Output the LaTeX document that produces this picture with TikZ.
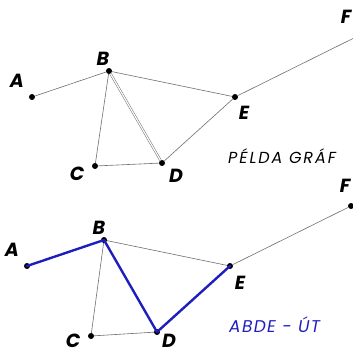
\documentclass[tikz,border=0pt]{standalone}
\usepackage{fontspec}
\setmainfont{Poppins}
\usetikzlibrary{positioning}
\definecolor{edgegray}{RGB}{110,110,110}
\definecolor{pathblue}{RGB}{30,30,190}
\tikzset{
  vertex/.style={circle, fill=black, inner sep=0pt, minimum size=6pt},
  vname/.style={font=\fontsize{19}{19}\selectfont\bfseries\itshape, inner sep=1pt},
  edge/.style={draw=edgegray, line width=0.6pt},
  dbl/.style={draw=edgegray, line width=0.5pt, double, double distance=1.2pt},
  walk/.style={draw=pathblue, line width=2.4pt, line cap=round, line join=round},
  caption/.style={font=\fontsize{16}{16}\selectfont\itshape\addfontfeature{LetterSpace=12},
                  anchor=west, inner sep=0pt}
}

\begin{document}
\begin{tikzpicture}[x=1pt, y=-1pt]
\useasboundingbox (0,0) rectangle (353,354);
% upper graph
\node[vertex] (a1) at (32,97) {};
\node[vertex] (b1) at (109,71) {};
\node[vertex] (c1) at (95,166) {};
\node[vertex] (d1) at (162,163) {};
\node[vertex] (e1) at (235,97) {};
\node[vertex] (f1) at (358,36) {};
\node[vname] at (17,81) {A};
\node[vname] at (103,59) {B};
\node[vname] at (77,174) {C};
\node[vname] at (176,176) {D};
\node[vname] at (244,113) {E};
\node[vname] at (346,17) {F};
\draw[edge] (a1)--(b1);
\draw[edge] (b1)--(c1);
\draw[edge] (c1)--(d1);
\draw[dbl] (b1)--(d1);
\draw[edge] (b1)--(e1);
\draw[edge] (d1)--(e1);
\draw[edge] (e1)--(f1);
\node[caption] (cap1) at (228,156) {PÉLDA GRÁF};
% lower graph
\node[vertex] (a2) at (27,266) {};
\node[vertex] (b2) at (104,240) {};
\node[vertex] (c2) at (91,336) {};
\node[vertex] (d2) at (157,332) {};
\node[vertex] (e2) at (230,266) {};
\node[vertex] (f2) at (351,206) {};
\node[vname] at (12,250) {A};
\node[vname] at (99,228) {B};
\node[vname] at (73,341) {C};
\node[vname] at (169,341) {D};
\node[vname] at (240,283) {E};
\node[vname] at (345,186) {F};
\draw[edge] (b2)--(c2);
\draw[edge] (c2)--(d2);
\draw[edge] (b2)--(e2);
\draw[edge] (b2)--(d2);
\draw[edge] (e2)--(f2);
\draw[walk] (a2.center)--(b2.center)--(d2.center)--(e2.center);
\node[caption, text=pathblue, font=\fontsize{17}{17}\selectfont\itshape\addfontfeature{LetterSpace=8}] (cap2) at (229,325) {ABDE - ÚT};
\end{tikzpicture}
\end{document}
